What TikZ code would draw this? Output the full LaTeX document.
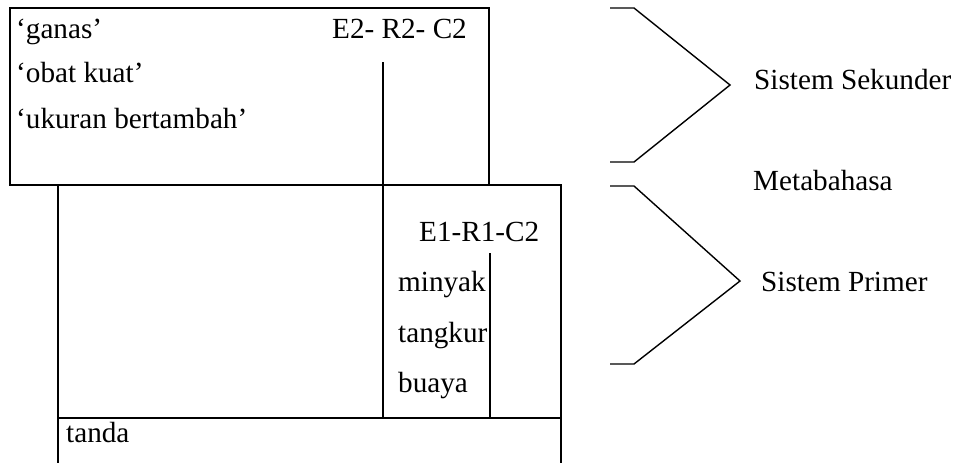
\documentclass[tikz,border=0pt]{standalone}
\usepackage{fontspec}
\setmainfont{Liberation Serif}
\begin{document}
\begin{tikzpicture}[x=1pt,y=-1pt,
  ln/.style={line width=1.4pt,line cap=rect},
  lbl/.style={inner sep=0pt,anchor=base west,font=\fontsize{29.2}{34}\selectfont}]
\useasboundingbox (0,0) rectangle (953,463);
% top box (secondary system)
\draw[ln] (10,185) -- (10,8) -- (489,8) -- (489,185);
\draw[ln] (10,185) -- (561,185);
% bottom box
\draw[ln] (58,463) -- (58,185);
\draw[ln] (561,185) -- (561,463);
\draw[ln] (58,418) -- (561,418);
% vertical dividers
\draw[ln] (383,63) -- (383,418);
\draw[ln] (490,254) -- (490,418);
% texts
\node[lbl] (ganas) at (16,38) {‘ganas’};
\node[lbl] (obat) at (16,82) {‘obat kuat’};
\node[lbl] (ukuran) at (16,128) {‘ukuran bertambah’};
\node[lbl] (e2) at (332,38) {E2- R2- C2};
\node[lbl] (e1) at (419,241) {E1-R1-C2};
\node[lbl] (minyak) at (398,291) {minyak};
\node[lbl] (tangkur) at (398,342) {tangkur};
\node[lbl] (buaya) at (398,392) {buaya};
\node[lbl] (tanda) at (66,442) {tanda};
\node[lbl] (sek) at (754,89) {Sistem Sekunder};
\node[lbl] (meta) at (753,190) {Metabahasa};
\node[lbl] (prim) at (761,291) {Sistem Primer};
% brackets
\draw[ln,line cap=butt] (610,8) -- (634,8) -- (730,85) -- (634,162) -- (610,162);
\draw[ln,line cap=butt] (610,186) -- (634,186) -- (740,281) -- (634,364) -- (610,364);
\end{tikzpicture}
\end{document}
